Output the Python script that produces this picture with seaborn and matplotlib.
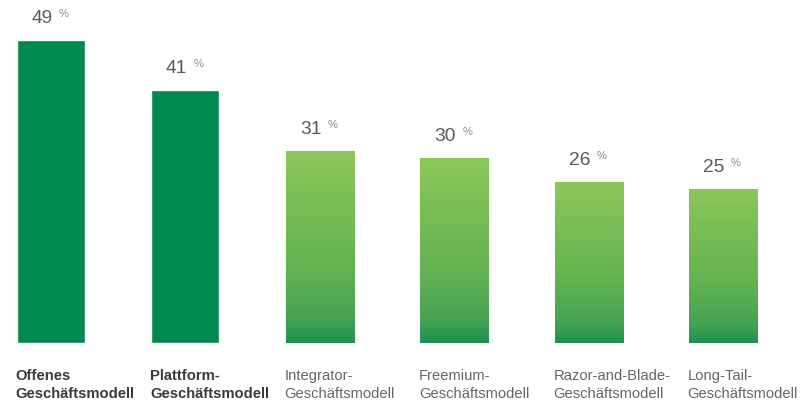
import matplotlib
matplotlib.use("Agg")
import matplotlib.pyplot as plt
import matplotlib.transforms as mtransforms
from matplotlib.colors import LinearSegmentedColormap
import numpy as np
import pandas as pd
import seaborn as sns

categories = ["Offenes\nGeschäftsmodell", "Plattform-\nGeschäftsmodell", "Integrator-\nGeschäftsmodell",
              "Freemium-\nGeschäftsmodell", "Razor-and-Blade-\nGeschäftsmodell", "Long-Tail-\nGeschäftsmodell"]
values = [49, 41, 31, 30, 26, 25]
highlight = [True, True, False, False, False, False]

sns.set_theme(style="white")
plt.rcParams['font.family'] = ['Liberation Sans', 'DejaVu Sans']

dark_green = "#00894F"
light_green = "#8CC65A"

fig = plt.figure(figsize=(8.02, 4.01), dpi=100)
ax = fig.add_axes([0, 1 - 343 / 401, 1, 343 / 401])

df = pd.DataFrame({"cat": categories, "val": values})
palette = [dark_green if h else light_green for h in highlight]
sns.barplot(data=df, x="cat", y="val", hue="cat", palette=palette, legend=False,
            width=0.506, ax=ax, saturation=1)

ax.set_xlim(-51 / 134.4, (802 - 51) / 134.4)
ax.set_ylim(0, 343 / 6.18)
ax.axis("off")

cmap = LinearSegmentedColormap.from_list(
    "g", [(0, "#1E9150"), (0.12, "#45A253"), (0.4, "#64B352"), (0.75, "#7BBE56"), (1, "#8DC75B")])
grad = np.linspace(0, 1, 256).reshape(-1, 1)

for i, patch in enumerate(ax.patches):
    if i >= len(values):
        break
    x0 = patch.get_x()
    w = patch.get_width()
    h = patch.get_height()
    if not highlight[i]:
        im = ax.imshow(grad, cmap=cmap, origin="lower", aspect="auto",
                       extent=(x0, x0 + w, 0, h), zorder=patch.get_zorder() + 0.1)
        im.set_clip_path(patch)
    xc = x0 + w / 2
    t_num = mtransforms.offset_copy(ax.transData, fig=fig, x=-9, y=17, units="dots")
    ax.text(xc, h, str(values[i]), transform=t_num, ha="center", va="baseline",
            fontsize=13.8, color="#5a5a5a")
    t_pct = mtransforms.offset_copy(ax.transData, fig=fig, x=8, y=23, units="dots")
    ax.text(xc, h, "%", transform=t_pct, ha="left", va="baseline",
            fontsize=8, color="#8a8a8a")
    tl = mtransforms.blended_transform_factory(ax.transData, fig.transFigure)
    ax.text(x0 - 0.01, 1 - 369 / 401, categories[i], transform=tl, ha="left", va="top",
            fontsize=10.6, linespacing=1.38,
            fontweight="bold" if highlight[i] else "normal",
            color="#3a3a3a" if highlight[i] else "#666666", clip_on=False)

ax.set_xlabel("")
ax.set_ylabel("")
fig.savefig("out.png", dpi=100)
